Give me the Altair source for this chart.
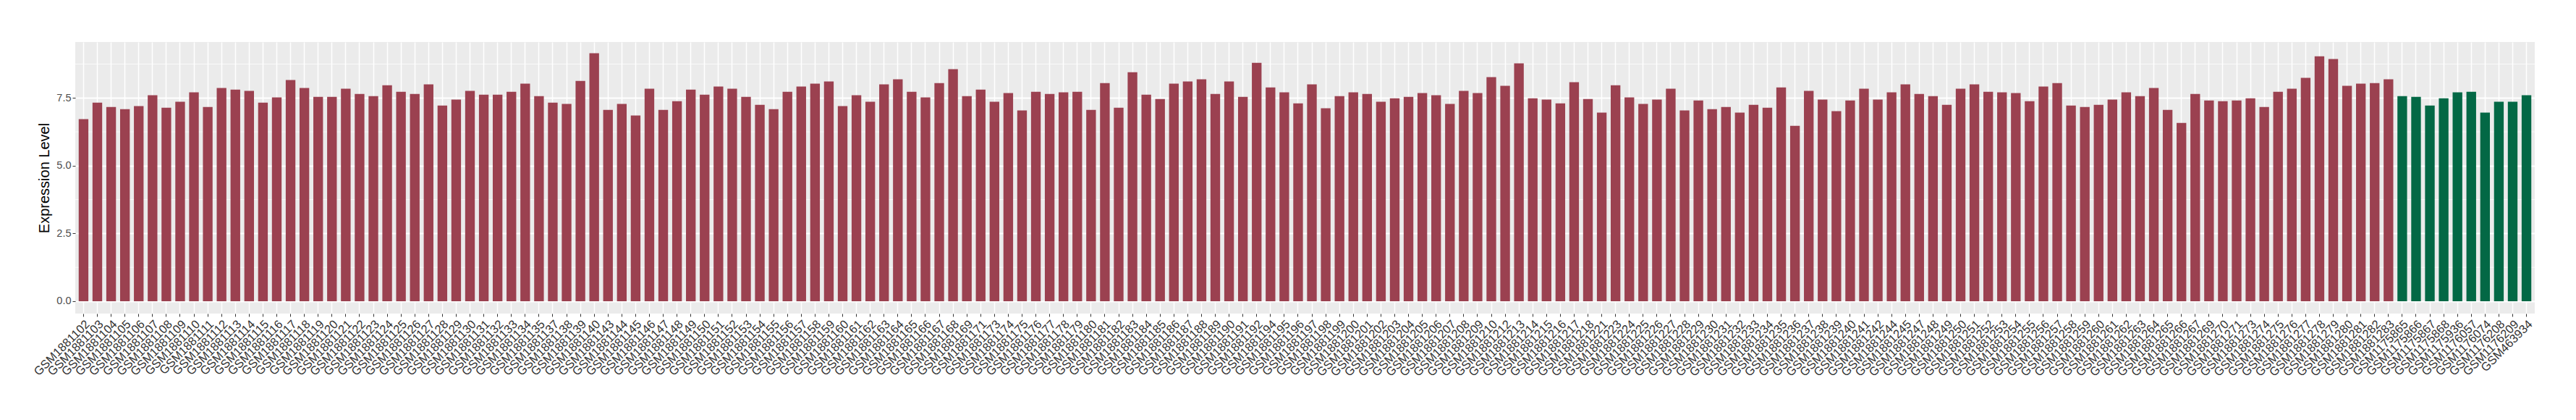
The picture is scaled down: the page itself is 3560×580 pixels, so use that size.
import altair as alt
import pandas as pd

# ---- data ----
red_prefix = "GSM1881"
red_suffix = [
    102, 103, 104, 105, 106, 107, 108, 109, 110, 111, 112, 113, 114, 115, 116, 117, 118, 119, 120, 121, 122,
    123, 124, 125, 126, 127, 128, 129, 130, 131, 132, 133, 134, 135,
    137, 138, 139, 140,
    143, 144, 145, 146, 147, 148,
    149, 150, 151, 152, 153, 154, 155, 156, 157, 158, 159, 160, 161, 162, 163, 164, 165, 166, 167, 168, 169,
    171, 173,
    174, 175, 176, 177, 178, 179, 180, 181, 182, 183, 184, 185, 186, 187, 188, 189, 190, 191, 192,
    194, 195, 196,
    197, 198, 199, 200, 201, 202, 203, 204, 205, 206, 207, 208, 209, 210,
    212, 213, 214, 215, 216, 217, 218,
    221, 223,
    224, 225, 226, 227, 228, 229, 230, 231, 232, 233, 234, 235, 236, 237, 238, 239, 240, 241, 242,
    244, 245, 247,
    248, 249, 250, 251, 252, 253, 254, 255, 256, 257, 258, 259, 260, 261, 262, 263, 264, 265, 266, 267,
    269, 270, 271,
    273, 274, 275, 276, 277, 278, 279, 280, 281, 282, 283,
]
red_values = [
    6.72, 7.33, 7.17, 7.09, 7.20, 7.60, 7.14, 7.36, 7.71, 7.17, 7.87, 7.81, 7.76, 7.33, 7.52, 8.16, 7.87, 7.54, 7.54, 7.84, 7.65,
    7.57, 7.97, 7.73, 7.65, 8.00, 7.22, 7.44, 7.76, 7.62, 7.62, 7.73, 8.03, 7.57,
    7.33, 7.28, 8.13, 9.15,
    7.06, 7.28, 6.85, 7.84, 7.06, 7.38,
    7.81, 7.62, 7.92, 7.84, 7.54, 7.25, 7.09, 7.73, 7.92, 8.03, 8.11, 7.20, 7.60, 7.36, 8.00, 8.19, 7.73, 7.52, 8.05, 8.56, 7.57,
    7.81, 7.36,
    7.68, 7.04, 7.73, 7.65, 7.71, 7.73, 7.06, 8.05, 7.14, 8.45, 7.62, 7.46, 8.03, 8.11, 8.19, 7.65, 8.11, 7.54, 8.80,
    7.89, 7.71, 7.30,
    8.00, 7.12, 7.57, 7.71, 7.65, 7.36, 7.49, 7.54, 7.68, 7.60, 7.28, 7.76, 7.68, 8.27,
    7.95, 8.78, 7.49, 7.44, 7.30, 8.08, 7.46,
    6.96, 7.97,
    7.52, 7.28, 7.44, 7.84, 7.04, 7.41, 7.09, 7.17, 6.96, 7.25, 7.14, 7.89, 6.47, 7.76, 7.44, 7.01, 7.41, 7.84, 7.44,
    7.71, 8.00, 7.65,
    7.57, 7.25, 7.84, 8.00, 7.73, 7.71, 7.68, 7.38, 7.92, 8.05, 7.22, 7.17, 7.25, 7.44, 7.71, 7.57, 7.87, 7.06, 6.58, 7.65,
    7.41, 7.38, 7.41,
    7.49, 7.17, 7.73, 7.84, 8.24, 9.04, 8.94, 7.95, 8.03, 8.05, 8.19,
]
green_samples = [
    "GSM1175865", "GSM1175866", "GSM1175867", "GSM1175868", "GSM1175936",
    "GSM1176057", "GSM1176074", "GSM1176208", "GSM1176209", "GSM463934",
]
green_values = [7.57, 7.54, 7.22, 7.49, 7.71, 7.73, 6.96, 7.36, 7.36, 7.60]

y_ticks = [0, 2.5, 5, 7.5]
y_minor = [1.25, 3.75, 6.25, 8.75]
group_names = ["Group 1", "Group 2"]
group_colors = ["#9B4150", "#036845"]

samples = [f"{red_prefix}{s}" for s in red_suffix] + green_samples
df = pd.DataFrame({
    "sample": samples,
    "value": red_values + green_values,
    "group": [group_names[0]] * len(red_values) + [group_names[1]] * len(green_values),
})
minor_df = pd.DataFrame({"value": y_minor})

y_scale = alt.Scale(domain=[-0.455, 9.565], nice=False, zero=False)
y_axis = alt.Axis(
    title="Expression Level",
    values=y_ticks,
    format=".1f",
    labelFontSize=14.5,
    labelColor="#4D4D4D",
    labelPadding=2,
    tickColor="#333333",
    tickSize=4,
    tickWidth=1,
    grid=True,
    gridColor="white",
    gridWidth=2,
    domain=False,
    titleFontSize=20,
    titleFontWeight="normal",
    titleColor="black",
    titlePadding=6,
)

minor = alt.Chart(minor_df).mark_rule(color="white", strokeWidth=0.8, opacity=0.9).encode(
    y=alt.Y("value:Q", scale=y_scale, axis=y_axis)
)

bars = alt.Chart(df).mark_bar().encode(
    x=alt.X(
        "sample:N",
        sort=samples,
        scale=alt.Scale(paddingInner=0.3, paddingOuter=0.25),
        axis=alt.Axis(
            title=None,
            labelAngle=-45,
            labelAlign="right",
            labelBaseline="top",
            labelFontSize=16.5,
            labelColor="#333333",
            labelPadding=2,
            labelOverlap=False,
            tickColor="#333333",
            tickSize=4,
            tickWidth=1,
            bandPosition=0.5,
            grid=True,
            gridColor="white",
            gridWidth=1.5,
            domain=False,
        ),
    ),
    y=alt.Y("value:Q", scale=y_scale, axis=y_axis),
    y2=alt.datum(0),
    color=alt.Color("group:N", scale=alt.Scale(domain=group_names, range=group_colors), legend=None),
)

chart = alt.layer(minor, bars).properties(
    width=3399,
    height=375,
    padding={"left": 96, "top": 50, "right": 40, "bottom": 120},
    autosize=alt.AutoSizeParams(type="none"),
).configure(font="Liberation Sans").configure_view(fill="#EBEBEB", strokeWidth=0)

chart.save("out.html", embed_options={"renderer": "svg", "actions": False})
